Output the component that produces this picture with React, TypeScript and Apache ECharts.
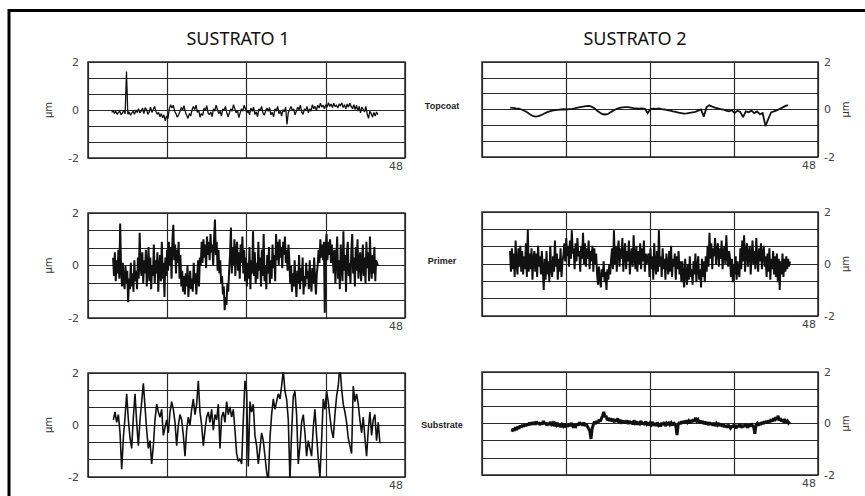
import React, { useEffect, useRef } from 'react';
import * as echarts from 'echarts';

// ---- texts ----
const titles = ['SUSTRATO 1', 'SUSTRATO 2'];
const layers = ['Topcoat', 'Primer', 'Substrate'];
const yUnit = 'µm';

// ---- axes ----
const xMin = 0;
const xMax = 48;
const xInterval = 12;
const yMin = -2;
const yMax = 2;
const yInterval = 2 / 3;
const yLabelValues = [-2, 0, 2];
const xLabelValues = [48];

// ---- profiles (µm), evenly sampled between the span's start and end ----
const s1TopcoatSpan = [3.6, 43.9];
const s1Topcoat = [
  -0.1, -0.02, -0.14, -0.05, -0.18, -0.1, -0.05, -0.2, -0.12, -0.02, -0.16, 1.6, -0.18, -0.08, -0.22, -0.12, -0.05, -0.18, 0.0, -0.1,
  0.05, -0.12, -0.05, 0.08, -0.15, 0.1, 0.02, -0.18, -0.08, 0.12, -0.1, 0.02, 0.15, -0.05, -0.18, -0.1, -0.28, -0.15, -0.32, -0.2,
  -0.45, -0.25, -0.35, 0.05, 0.22, 0.08, 0.2, -0.05, -0.15, -0.3, -0.2, -0.05, 0.1, 0.0, 0.18, -0.08, -0.22, -0.35, -0.15, -0.25,
  0.0, 0.15, 0.02, 0.2, -0.1, -0.02, -0.3, -0.15, -0.22, 0.08, -0.02, 0.18, -0.12, -0.2, -0.08, -0.28, 0.05, -0.05, 0.2, 0.02,
  -0.15, -0.05, -0.25, 0.05, -0.02, 0.15, -0.12, -0.28, -0.1, 0.05, -0.05, 0.22, 0.05, -0.12, -0.02, -0.32, -0.12, 0.05, -0.05, 0.2,
  0.02, -0.12, -0.02, -0.2, 0.08, -0.05, 0.12, -0.18, -0.08, -0.28, 0.05, -0.02, 0.15, -0.12, -0.22, -0.05, 0.08, -0.05, 0.1, -0.2,
  -0.1, -0.28, 0.05, -0.05, 0.15, -0.15, -0.05, -0.25, 0.02, -0.08, 0.12, -0.6, -0.1, 0.02, 0.15, -0.02, 0.05, -0.2, -0.05, 0.12,
  0.0, 0.2, -0.08, -0.18, 0.05, -0.02, 0.15, -0.12, 0.05, -0.05, 0.22, 0.05, 0.15, -0.02, 0.2, 0.08, 0.28, 0.12, 0.2, 0.05,
  0.22, 0.12, 0.3, 0.15, 0.25, 0.1, 0.28, 0.15, 0.2, 0.08, 0.25, 0.18, 0.3, 0.1, 0.22, 0.05, 0.25, 0.12, 0.28, 0.15,
  0.05, 0.22, 0.02, 0.2, -0.05, 0.15, -0.12, 0.12, 0.02, -0.08, 0.15, -0.18, -0.35, -0.05, -0.15, -0.3, -0.1, -0.25, -0.08, -0.2,
];

const s2TopcoatSpan = [4.04, 43.7];
const s2Topcoat = [
  0.08, 0.07, 0.05, 0.04, 0.0, -0.05, -0.12, -0.2, -0.27, -0.3,
  -0.28, -0.24, -0.18, -0.12, -0.08, -0.05, -0.03, -0.02, 0.0, 0.01,
  0.0, 0.02, 0.03, 0.05, 0.08, 0.1, 0.12, 0.14, 0.15, 0.12,
  0.05, -0.05, -0.14, -0.2, -0.21, -0.18, -0.1, -0.03, 0.03, 0.07,
  0.09, 0.1, 0.1, 0.08, 0.06, 0.05, 0.04, 0.05, 0.03, -0.15,
  0.02, 0.04, 0.03, 0.05, 0.02, 0.0, -0.03, -0.05, -0.08, -0.1,
  -0.13, -0.15, -0.17, -0.16, -0.14, -0.12, -0.1, -0.05, 0.0, -0.3,
  0.1, 0.18, 0.12, 0.08, 0.05, 0.02, 0.0, -0.05, -0.08, -0.03,
  -0.15, -0.05, -0.1, -0.32, -0.08, -0.12, -0.05, -0.15, -0.08, -0.2,
  -0.15, -0.7, -0.4, -0.12, -0.08, -0.04, 0.02, 0.08, 0.14, 0.18,
];

const s1PrimerSpan = [3.8, 43.9];
const s1Primer = [
  0.3, -0.4, 0.5, -0.6, 0.2, -0.3, 0.6, -0.5, 1.6, -0.1, -0.8, 0.1, -0.6, -0.9, 0.0, -0.7, -0.2, -1.4, -0.5, -0.9,
  0.1, -0.8, -0.3, -1.0, 0.2, -0.6, -0.2, -0.9, 0.3, -0.5, 1.25, 0.0, -0.4, 0.5, -0.7, 0.2, -0.3, 0.6, -0.8, -0.1,
  0.7, -0.6, 0.3, -0.9, 0.0, -0.4, 0.8, -0.7, 0.2, -0.3, 0.5, -1.0, -0.1, 0.4, -0.6, 0.9, -0.5, 0.1, -1.2, 0.3,
  -0.4, 0.6, -0.2, 0.9, 0.0, 0.7, -0.5, 1.0, 1.55, 0.2, 0.8, -0.3, 0.6, 0.1, 0.9, -0.5, 0.4, -0.8, -0.2, -1.0,
  -0.4, -1.1, -0.3, -0.8, 0.0, -1.2, -0.6, -0.2, -0.9, -0.5, -1.0, 0.1, -0.7, -0.3, -1.1, -0.4, 0.2, -0.8, 0.3, 0.0,
  0.9, 0.1, 1.0, 0.3, 0.8, -0.1, 1.1, 0.4, 0.9, 0.2, 1.2, 0.5, 0.8, 0.0, 1.0, 1.75, 0.4, 0.9, -0.2, 0.6,
  -0.3, 0.2, -0.7, -0.4, -1.1, -0.8, -1.7, -1.2, -1.5, -0.7, -1.0, -0.2, 0.4, 1.45, -0.3, 0.7, 0.0, 1.0, -0.4, 0.6,
  0.9, -0.2, 0.5, -0.5, 0.8, 0.1, 1.1, -0.3, 0.6, -0.6, 0.3, -0.8, 0.1, -0.5, 0.7, -0.9, 0.2, -0.3, 1.3, -0.4,
  0.5, -0.7, 0.1, -0.5, 0.9, -0.2, 0.3, -0.8, 0.6, -0.4, 1.2, -0.6, 0.0, -0.9, 0.4, -0.3, 0.7, -0.7, 0.2, -0.5,
  0.8, -0.1, 0.4, -0.6, 1.2, 0.2, 0.9, 0.0, 1.0, 0.3, 0.7, -0.1, 0.9, 0.4, 1.1, 0.1, 0.6, -0.2, 0.8, 0.2,
  -0.7, 0.0, -1.0, -0.3, -0.8, 0.2, -0.6, -1.2, -0.2, -0.7, 0.4, -0.9, -0.1, -0.6, 0.3, -1.1, -0.4, -0.8, 0.1, -0.5,
  -0.2, -0.9, 0.2, -0.6, -1.0, -0.1, -0.7, 0.3, -0.5, -1.1, -0.3, 0.0, 0.6, 0.1, 1.0, 0.3, 0.8, 0.2, 0.9, -1.8,
  0.7, 1.2, 0.2, 0.9, 0.4, 1.0, 0.1, 0.8, 0.3, -0.3, 0.6, -0.7, 0.3, 1.1, -0.5, 0.2, -0.9, 0.8, 0.0, -0.6,
  1.3, -0.2, 0.4, -1.0, 0.5, 0.9, -0.4, 0.1, -0.7, 0.6, 1.2, -0.3, 0.3, -0.8, 0.7, -0.2, 1.0, -0.5, 0.2, 0.5,
  -0.6, 0.1, 0.8, -0.4, 0.3, -0.7, 0.9, -0.1, 0.5, -0.6, 1.1, 0.0, -0.5, 0.4, -0.3, 0.7, -0.6, 0.2, 0.1, 0.0,
];

const s2PrimerSpan = [4.0, 44.0];
const s2Primer = [
  0.5, -0.3, 0.6, -0.2, 0.4, -0.5, 0.9, 0.0, -0.4, 0.6, -0.1, 0.7, -0.3, 0.5, -0.4, 0.3, -0.2, 0.8, -0.5, 1.35,
  -0.3, 0.4, -0.2, 0.6, -0.6, 0.2, 0.5, -0.3, 0.4, -0.5, 0.7, -0.1, 0.3, -0.4, 0.5, -0.2, -1.0, 0.2, -0.6, 0.5,
  -0.4, 0.1, -0.7, 0.7, -0.2, -0.5, 0.3, -0.3, 0.9, -0.1, 0.4, -0.6, 0.2, -0.3, 0.6, -0.5, 0.1, 0.3, 0.8, 0.1,
  1.0, 0.3, 0.7, -0.1, 0.9, 0.2, 1.3, 0.4, 0.6, -0.2, 0.8, 0.1, 1.0, 0.3, 0.5, -0.3, 0.7, 0.2, 1.2, 0.0,
  0.8, -0.1, 0.6, 0.2, 0.9, -0.2, 0.5, 0.1, 0.7, -0.3, 0.6, 0.0, 0.4, -0.4, -0.8, -0.1, -0.6, -0.9, -0.2, -0.5,
  0.1, -0.7, -0.3, -1.0, -0.2, -0.6, 0.0, -0.4, 0.2, 0.6, -0.2, 1.3, 0.0, 0.7, -0.3, 0.5, 0.9, -0.1, 0.6, 0.2,
  1.0, -0.3, 0.4, 0.8, -0.2, 0.5, 0.1, 0.9, -0.4, 0.3, 0.6, -0.1, 1.1, 0.2, -0.2, 0.7, -0.3, 0.5, 0.0, 0.8,
  -0.2, 0.6, 0.1, 0.9, -0.3, 0.4, 0.0, 0.3, 0.4, -0.5, 0.6, -0.2, 0.3, -0.6, 0.8, 0.0, -0.4, 0.5, -0.3, 1.3,
  -0.1, 0.3, -0.5, 0.6, -0.2, 0.2, -0.6, 0.4, 0.0, -0.4, 0.5, -0.3, 0.7, -0.5, 0.2, -0.1, 0.4, -0.6, 0.3, -0.2,
  0.5, -0.4, 0.1, -0.7, 0.1, -0.5, -0.9, 0.2, -0.4, -0.8, 0.0, -0.6, 0.3, -0.5, -0.2, -0.8, 0.1, -0.4, 0.4, -0.7,
  -0.1, 0.3, -0.6, -0.2, -0.9, 0.2, -0.5, 0.1, -0.7, 0.3, -0.3, 0.7, -0.1, 1.2, 0.2, 0.8, -0.2, 0.6, 0.3, 1.0,
  0.0, 0.5, 0.8, -0.1, 0.6, 0.2, 0.9, -0.2, 0.4, 0.7, 0.0, 1.1, 0.3, -0.1, 0.5, 0.2, -0.5, 0.2, -0.7, 0.0,
  -0.4, 0.3, -0.6, 0.1, -0.3, -0.5, 0.6, -0.2, 0.9, 0.1, 1.1, -0.3, 0.5, 0.8, -0.1, 0.4, 0.7, -0.4, 0.3, 0.9,
  0.0, 0.5, -0.2, 1.0, 0.2, -0.3, 0.6, 0.1, 0.8, -0.2, 0.4, 0.7, -0.1, 0.3, -0.5, 0.4, -0.3, 0.6, -0.6, 0.2,
  -0.2, 0.5, -0.4, 0.3, -0.5, 0.4, -0.7, 0.2, -1.0, 0.1, -0.4, 0.4, -0.5, 0.2, -0.3, 0.3, -0.2, 0.2, -0.1, 0.1,
];

const s1SubstrateSpan = [3.84, 44.2];
const s1Substrate = [
  0.2, 0.5, 0.1, 0.4, -0.3, -1.7, -0.5, 0.3, 1.2, 0.2,
  -0.5, -0.9, 0.3, 1.2, 0.1, -0.8, 0.2, 0.9, 1.6, 0.7,
  -0.2, -0.9, -0.6, -1.5, -0.8, 0.2, 0.8, 0.5, 0.3, 0.6,
  -0.4, -0.1, 0.2, -0.3, 0.5, 0.9, 0.6, 0.1, -0.8, 0.0,
  0.4, 0.2, -0.4, -1.2, -0.2, 0.3, 0.0, 0.6, 1.0, 0.4,
  0.8, 1.7, 0.5, 0.0, -0.8, -0.2, 0.3, 0.5, 0.1, 0.6,
  -0.2, 0.4, 0.2, 0.8, -0.9, 0.3, 0.5, 0.1, 0.9, 0.4,
  0.7, 0.3, 0.6, -0.2, -1.1, -1.4, -1.3, -1.5, 0.2, 1.7,
  1.3, -1.6, 0.9, 0.5, 0.8, -0.4, -0.8, -1.5, -0.9, -0.3,
  -0.6, -1.2, -1.8, -2.2, -0.5, 0.4, 1.0, 0.6, 0.9, 1.2,
  1.0, 1.5, 2.1, 1.3, 1.0, 0.2, -2.1, -0.3, 1.1, 1.3,
  0.4, -1.5, -0.8, 0.1, 0.4, -0.3, -1.2, -0.6, -0.9, -1.2,
  -0.1, 0.6, -0.4, -1.3, -2.0, -0.6, 1.0, 0.6, 1.3, 0.9,
  0.3, -0.2, -0.5, 0.4, 1.1, 1.5, 2.3, 1.4, 0.8, 0.5,
  0.1, -0.5, -0.8, -1.1, 1.5, 0.9, 1.2, 0.8, 0.2, -0.3,
  0.3, -0.5, -1.2, -0.2, 0.5, -0.4, 0.2, 0.4, -0.6, 0.1,
  -0.7,
];

const s2SubstrateSpan = [4.28, 43.96];
const s2Substrate = [
  -0.32, -0.2, -0.28, -0.15, -0.25, -0.12, -0.2, -0.08, -0.16, -0.05, -0.12, -0.02, -0.1, 0.0, -0.08, 0.04, -0.06, 0.05, -0.04, 0.06,
  -0.05, 0.08, -0.02, 0.05, -0.06, 0.03, -0.04, 0.1, -0.02, 0.04, -0.08, 0.02, -0.05, 0.06, -0.03, 0.02, -0.1, 0.0, -0.06, 0.03,
  -0.12, -0.02, -0.14, -0.04, -0.1, 0.0, -0.15, -0.05, -0.12, -0.02, -0.1, 0.02, -0.08, -0.16, -0.04, -0.1, 0.0, -0.08, 0.05, -0.05,
  0.02, -0.08, 0.04, -0.1, -0.02, -0.12, -0.2, -0.3, -0.6, -0.2, -0.05, 0.08, -0.02, 0.1, 0.02, 0.15, 0.08, 0.2, 0.3, 0.45,
  0.25, 0.3, 0.12, 0.22, 0.1, 0.2, 0.08, 0.18, 0.05, 0.16, 0.08, 0.2, 0.04, 0.14, 0.06, 0.12, 0.0, 0.1, 0.02, 0.12,
  -0.02, 0.1, 0.0, 0.08, -0.04, 0.12, 0.02, 0.08, -0.05, 0.06, 0.0, 0.1, -0.03, 0.05, -0.06, 0.08, -0.02, 0.04, -0.08, 0.02,
  -0.04, 0.06, -0.08, 0.02, -0.1, 0.04, -0.06, 0.0, -0.12, 0.03, -0.05, 0.05, -0.1, 0.0, -0.06, 0.06, -0.04, 0.02, -0.08, 0.04,
  -0.02, -0.1, -0.45, -0.05, 0.05, -0.02, 0.08, 0.0, 0.1, 0.02, 0.12, 0.04, 0.1, 0.0, 0.14, 0.05, 0.16, 0.08, 0.22, 0.1,
  0.15, 0.04, 0.12, 0.0, 0.1, -0.02, 0.08, -0.04, 0.06, -0.06, 0.04, -0.05, 0.02, -0.08, 0.03, -0.1, 0.0, -0.06, 0.02, -0.1,
  -0.02, -0.12, -0.04, -0.14, -0.06, -0.16, -0.05, -0.12, -0.18, -0.08, -0.15, -0.04, -0.12, -0.18, -0.06, -0.14, -0.02, -0.1, -0.16, -0.05,
  -0.12, -0.02, -0.1, -0.16, -0.04, -0.12, 0.0, -0.08, -0.14, -0.4, -0.06, 0.0, -0.08, 0.02, -0.05, 0.05, -0.02, 0.08, 0.0, 0.1,
  0.02, 0.12, 0.05, 0.16, 0.08, 0.2, 0.1, 0.24, 0.14, 0.3, 0.12, 0.2, 0.08, 0.16, 0.04, 0.12, 0.06, 0.1, 0.02, 0.08,
];

const profiles = [
  { values: s1Topcoat, span: s1TopcoatSpan },
  { values: s2Topcoat, span: s2TopcoatSpan },
  { values: s1Primer, span: s1PrimerSpan },
  { values: s2Primer, span: s2PrimerSpan },
  { values: s1Substrate, span: s1SubstrateSpan },
  { values: s2Substrate, span: s2SubstrateSpan },
];

// ---- layout / style ----
const panelBoxes = [
  { left: 88, top: 62, width: 317, height: 96, side: 'left', lw: 1.3 },
  { left: 482, top: 62, width: 336, height: 95, side: 'right', lw: 1.8 },
  { left: 88, top: 213, width: 317, height: 105, side: 'left', lw: 2.0 },
  { left: 482, top: 212, width: 336, height: 104, side: 'right', lw: 2.0 },
  { left: 88, top: 373, width: 317, height: 104, side: 'left', lw: 1.6 },
  { left: 482, top: 372, width: 336, height: 103, side: 'right', lw: 3.0 },
];

const toPairs = (ys: number[], span: number[]) => {
  const n = ys.length;
  const step = (span[1] - span[0]) / (n - 1);
  return ys.map((y, i) => [span[0] + i * step, y]);
};

const isLabelValue = (v: number, list: number[]) =>
  list.some((t) => Math.abs(v - t) < 1e-6);

const gridColor = '#2a2a2a';
const labelColor = '#444444';

export default function App() {
  const ref = useRef<HTMLDivElement>(null);

  useEffect(() => {
    if (!ref.current) return;
    const chart = echarts.init(ref.current, undefined, { renderer: 'svg' });

    const grid = panelBoxes.map((b) => ({
      left: b.left,
      top: b.top,
      width: b.width,
      height: b.height,
      show: true,
      borderColor: gridColor,
      borderWidth: 1.5,
      backgroundColor: 'transparent',
    }));

    const xAxis = panelBoxes.map((b, i) => ({
      type: 'value',
      gridIndex: i,
      min: xMin,
      max: xMax,
      interval: xInterval,
      axisLine: { show: false },
      axisTick: { show: false },
      splitLine: { show: true, lineStyle: { color: gridColor, width: 1.2 } },
      axisLabel: {
        show: true,
        margin: 3,
        color: labelColor,
        fontSize: 11,
        fontFamily: 'DejaVu Sans',
        align: 'right',
        padding: [0, 2, 0, 0],
        formatter: (v: number) => (isLabelValue(v, xLabelValues) ? String(Math.round(v)) : ''),
      },
    }));

    const yAxis = panelBoxes.map((b, i) => ({
      type: 'value',
      gridIndex: i,
      min: yMin,
      max: yMax,
      interval: yInterval,
      position: b.side,
      axisLine: { show: false },
      axisTick: { show: false },
      splitLine: { show: true, lineStyle: { color: gridColor, width: 1.2 } },
      axisLabel: {
        show: true,
        margin: b.side === 'left' ? 9 : 6,
        color: labelColor,
        fontSize: 11,
        fontFamily: 'DejaVu Sans',
        formatter: (v: number) =>
          isLabelValue(v, yLabelValues) ? String(Math.round(v)) : '',
      },
      name: yUnit,
      nameLocation: 'middle',
      nameRotate: 90,
      nameGap: b.side === 'left' ? 35 : 22,
      nameTextStyle: { color: '#333', fontSize: 10, fontFamily: 'DejaVu Sans' },
    }));

    const series = profiles.map((p, i) => ({
      type: 'line',
      xAxisIndex: i,
      yAxisIndex: i,
      data: toPairs(p.values, p.span),
      showSymbol: false,
      symbol: 'none',
      lineStyle: { color: '#111', width: panelBoxes[i].lw, join: 'miter', miterLimit: 2 },
      silent: true,
    }));

    const graphic: any[] = [
      {
        type: 'rect',
        shape: { x: 9, y: 10.5, width: 900, height: 600 },
        style: { fill: 'none', stroke: '#000', lineWidth: 3 },
        silent: true,
      },
    ];
    const titleX = [238, 635];
    titles.forEach((t, i) => {
      graphic.push({
        type: 'text',
        x: titleX[i],
        y: 38,
        style: {
          text: t,
          fontSize: 18,
          fontFamily: 'Noto Sans',
          fill: '#111',
          textAlign: 'center',
          textVerticalAlign: 'middle',
        },
      });
    });
    const layerY = [106, 261, 425];
    layers.forEach((name, i) => {
      graphic.push({
        type: 'text',
        x: 442,
        y: layerY[i],
        style: {
          text: name,
          fontSize: 9,
          fontWeight: 'bold',
          fontFamily: 'Liberation Sans Narrow, Liberation Sans',
          fill: '#222',
          textAlign: 'center',
          textVerticalAlign: 'middle',
        },
      });
    });

    chart.setOption({
      animation: false,
      backgroundColor: '#fff',
      grid,
      xAxis,
      yAxis,
      series,
      graphic,
    });

    return () => chart.dispose();
  }, []);

  return (
    <div
      ref={ref}
      style={{ position: 'fixed', left: 0, top: 0, width: 865, height: 496 }}
    />
  );
}
